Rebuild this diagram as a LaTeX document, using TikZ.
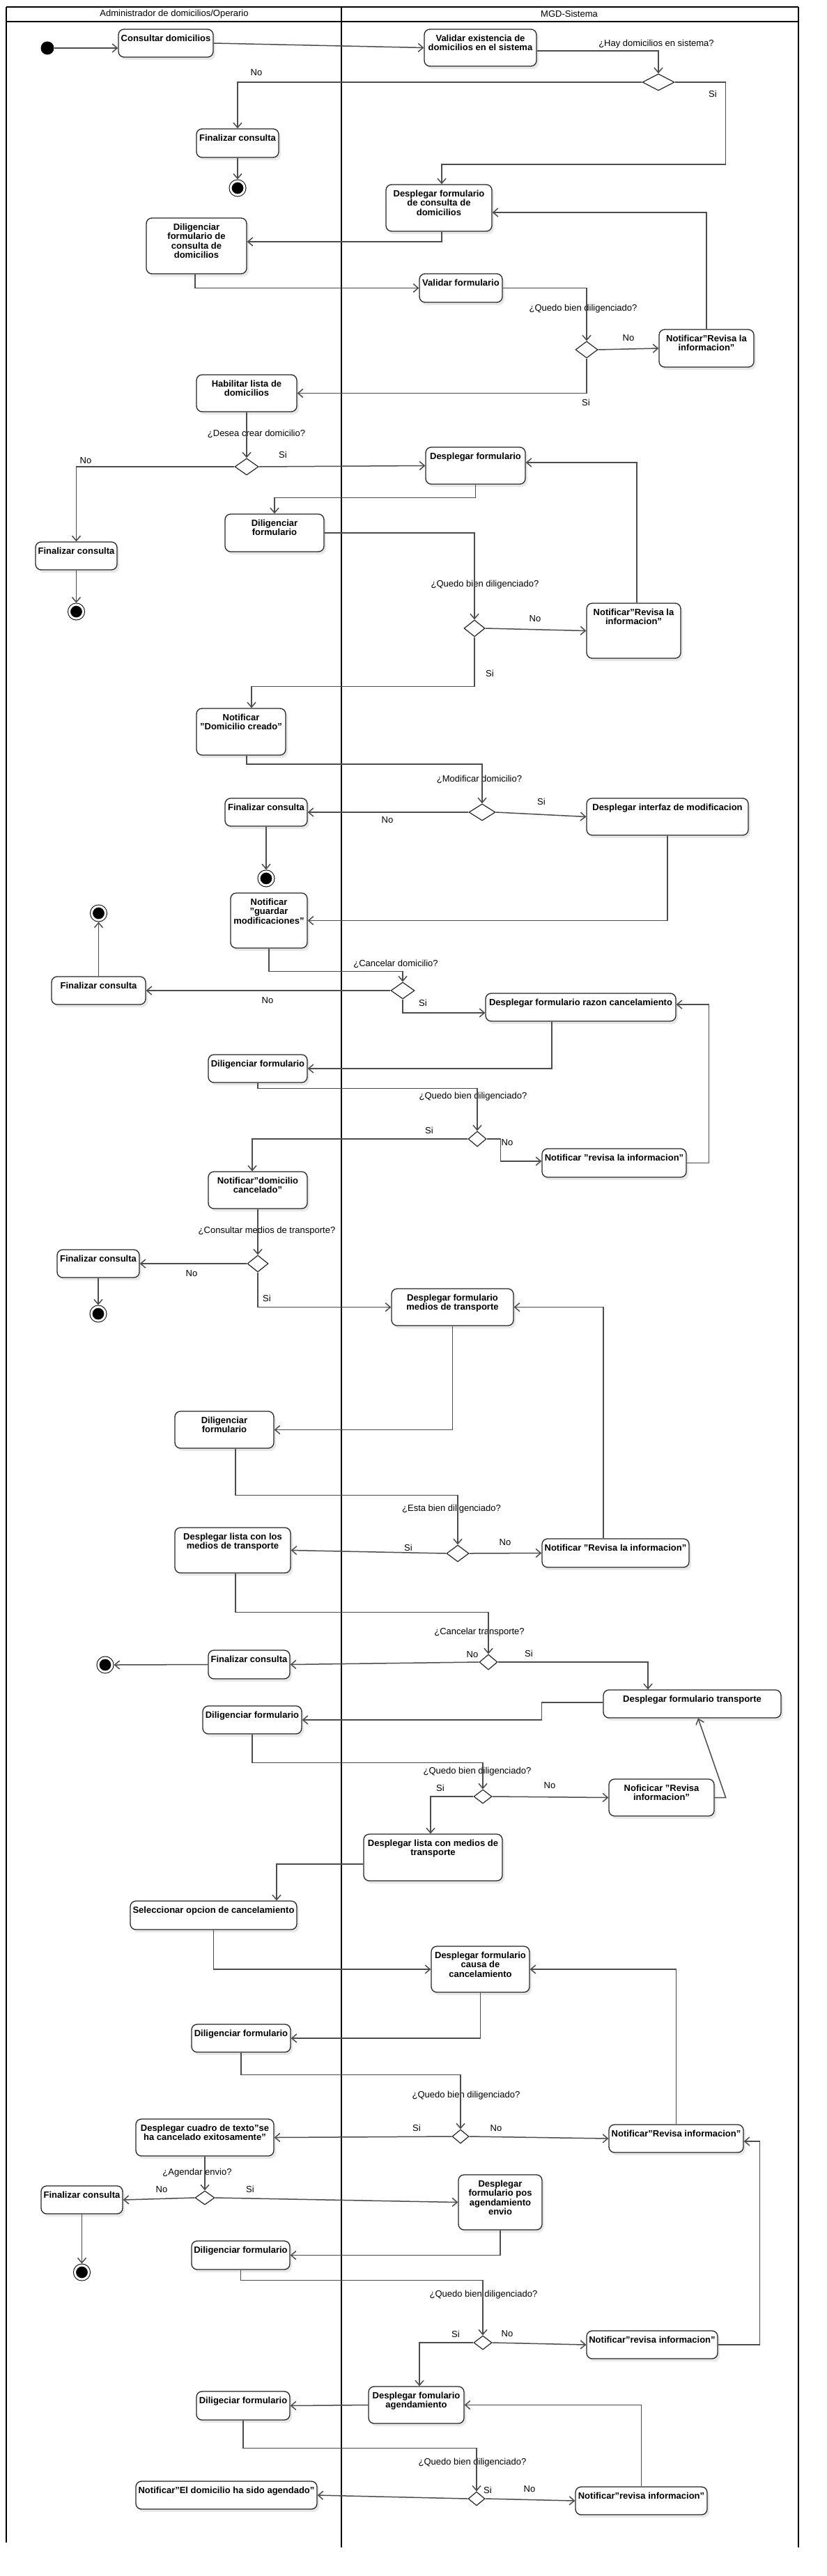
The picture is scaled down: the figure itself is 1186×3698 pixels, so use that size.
\documentclass[tikz,border=0pt]{standalone}
\usepackage{fontspec}
\setmainfont{Liberation Sans}
\usepackage{tikz}
\usetikzlibrary{arrows.meta,shapes.geometric,shadows}
\newcommand{\acttxt}[3]{\parbox[c][#2pt][t]{#1pt}{\centering\vspace*{8pt}\makebox[0pt]{\begin{tabular}[t]{@{}c@{}}#3\end{tabular}}}}
\tikzset{
  act/.style={rectangle, rounded corners=8pt, draw=black!85, line width=1.3pt, fill=white, inner sep=0pt,
              font=\bfseries\fontsize{13}{13}\selectfont,
              drop shadow={shadow xshift=3pt, shadow yshift=-4pt, fill=black!9, opacity=1}},
  dec/.style={diamond, draw=black!85, line width=1.2pt, fill=white, inner sep=0pt},
  startdot/.style={circle, fill=black, minimum size=19pt, inner sep=0pt},
  enddot/.style={circle, draw=black, fill=black, line width=1pt, double=white, double distance=3pt,
                 minimum size=20pt, inner sep=0pt, outer sep=2.5pt},
  flow/.style={-{Straight Barb[length=7pt, width=12pt]}, line width=1.5pt, draw=black!70},
  guard/.style={font=\fontsize{13}{13}\selectfont, inner sep=0pt},
  lane/.style={line width=1.4pt, black},
}
\begin{document}
\begin{tikzpicture}[x=1pt, y=-1pt]
\useasboundingbox (0,0) rectangle (1186,3698);
\fill[white] (0,0) rectangle (1186,3698);
\draw[lane] (9,10) -- (1146,10);
\draw[lane] (9,31) -- (1146,31);
\draw[lane] (9,10) -- (9,3650);
\draw[lane] (490,10) -- (490,3657);
\draw[lane] (1146,10) -- (1146,3657);
\node[guard] (laneAdmin) at (250,20) {Administrador de domicilios/Operario};
\node[guard] (laneSist) at (817,20) {MGD-Sistema};

\node[startdot] (start) at (68,69) {};
\node[act] (consultar) at (238,62) {\acttxt{136}{40}{Consultar domicilios}};
\node[act] (validar) at (689.5,68.5) {\acttxt{161}{53}{Validar existencia de\\domicilios en el sistema}};
\node[dec, minimum width=46pt, minimum height=24pt] (d1) at (945,118) {};
\node[act] (fin1) at (341,205.5) {\acttxt{118}{41}{Finalizar consulta}};
\node[enddot] (end1) at (341,270) {};
\node[act] (despl1) at (630,298.5) {\acttxt{152}{67}{Desplegar formulario\\de consulta de\\domicilios}};
\node[act] (dilig1) at (282,353) {\acttxt{144}{80}{Diligenciar\\formulario de\\consulta de\\domicilios}};
\node[act] (valform) at (661.5,413.5) {\acttxt{119}{41}{Validar formulario}};
\node[dec, minimum width=32pt, minimum height=24pt] (d2) at (842,502) {};
\node[act] (notif1) at (1014,500) {\acttxt{136}{54}{Notificar"Revisa la\\informacion"}};
\node[act] (habil) at (354,564.5) {\acttxt{144}{53}{Habilitar lista de\\domicilios}};
\node[dec, minimum width=34pt, minimum height=24pt] (d3) at (354,670) {};
\node[act] (despl2) at (682.5,668.5) {\acttxt{143}{53}{Desplegar formulario}};
\node[act] (fin2) at (109.5,798) {\acttxt{117}{40}{Finalizar consulta}};
\node[enddot] (end2) at (109.5,878) {};
\node[act] (dilig2) at (394,765) {\acttxt{142}{54}{Diligenciar\\formulario}};
\node[dec, minimum width=30pt, minimum height=24pt] (d4) at (681,902) {};
\node[act] (notif2) at (909.5,905.5) {\acttxt{135}{79}{Notificar"Revisa la\\informacion"}};
\node[act] (creado) at (346,1050.5) {\acttxt{128}{67}{Notificar\\"Domicilio creado"}};
\node[dec, minimum width=38pt, minimum height=24pt] (d5) at (692,1166) {};
\node[act] (fin3) at (382,1166) {\acttxt{118}{40}{Finalizar consulta}};
\node[act] (desplMod) at (958,1172.5) {\acttxt{232}{53}{Desplegar interfaz de modificacion}};
\node[enddot] (end3) at (382,1261) {};
\node[act] (guardar) at (386,1321.5) {\acttxt{110}{79}{Notificar\\"guardar\\modificaciones"}};
\node[dec, minimum width=34pt, minimum height=24pt] (d6) at (578,1422) {};
\node[act] (fin4) at (141.5,1422) {\acttxt{135}{40}{Finalizar consulta}};
\node[enddot] (end4) at (141.5,1311) {};
\node[act] (desplRazon) at (833.5,1446) {\acttxt{273}{40}{Desplegar formulario razon cancelamiento}};
\node[act] (dilig3) at (370,1534) {\acttxt{142}{40}{Diligenciar formulario}};
\node[dec, minimum width=26pt, minimum height=22pt] (d7) at (685,1635) {};
\node[act] (notif3) at (881.5,1669.5) {\acttxt{207}{41}{Notificar "revisa la informacion"}};
\node[act] (cancelado) at (370,1708.5) {\acttxt{142}{53}{Notificar"domicilio\\cancelado"}};
\node[dec, minimum width=30pt, minimum height=24pt] (d8) at (370,1814) {};
\node[act] (fin5) at (141,1814) {\acttxt{118}{40}{Finalizar consulta}};
\node[enddot] (end5) at (141,1886) {};
\node[act] (desplMedios) at (649.5,1876.5) {\acttxt{175}{53}{Desplegar formulario\\medios de transporte}};
\node[act] (dilig4) at (322,2052.5) {\acttxt{142}{53}{Diligenciar\\formulario}};
\node[dec, minimum width=32pt, minimum height=24pt] (d9) at (657,2230) {};
\node[act] (notif4) at (883.5,2229.5) {\acttxt{211}{41}{Notificar "Revisa la informacion"}};
\node[act] (desplLista) at (334,2225.5) {\acttxt{166}{65}{Desplegar lista con los\\medios de transporte}};
\node[dec, minimum width=26pt, minimum height=22pt] (d10) at (701,2386) {};
\node[act] (fin6) at (357.5,2389.5) {\acttxt{117}{41}{Finalizar consulta}};
\node[enddot] (end6) at (151,2390) {};
\node[act] (desplTransp) at (993.5,2446) {\acttxt{255}{40}{Desplegar formulario transporte}};
\node[act] (dilig5) at (362,2469) {\acttxt{142}{40}{Diligenciar formulario}};
\node[dec, minimum width=26pt, minimum height=20pt] (d11) at (693,2579) {};
\node[act] (notif5) at (949.5,2580.5) {\acttxt{151}{53}{Noficicar "Revisa\\informacion"}};
\node[act] (desplLista2) at (621.5,2666.5) {\acttxt{199}{67}{Desplegar lista con medios de\\transporte}};
\node[act] (selecc) at (306.5,2749.5) {\acttxt{239}{41}{Seleccionar opcion de cancelamiento}};
\node[act] (desplCausa) at (689.5,2827) {\acttxt{141}{66}{Desplegar formulario\\causa de\\cancelamiento}};
\node[act] (dilig6) at (346,2926) {\acttxt{142}{40}{Diligenciar formulario}};
\node[dec, minimum width=24pt, minimum height=20pt] (d12) at (661,3067) {};
\node[act] (notif6) at (970.5,3070) {\acttxt{193}{40}{Notificar"Revisa informacion"}};
\node[act] (cuadro) at (294,3068.5) {\acttxt{198}{53}{Desplegar cuadro de texto"se\\ha cancelado exitosamente"}};
\node[dec, minimum width=28pt, minimum height=20pt] (d13) at (294,3155) {};
\node[act] (fin7) at (117.5,3158) {\acttxt{117}{40}{Finalizar consulta}};
\node[enddot] (end7) at (117.5,3262) {};
\node[act] (desplPos) at (718,3161.5) {\acttxt{120}{79}{Desplegar\\formulario pos\\agendamiento\\envio}};
\node[act] (dilig7) at (345.5,3237.5) {\acttxt{141}{41}{Diligenciar formulario}};
\node[dec, minimum width=26pt, minimum height=20pt] (d14) at (693,3363) {};
\node[act] (notif7) at (936,3366) {\acttxt{188}{40}{Notificar"revisa informacion"}};
\node[act] (desplAg) at (597.5,3452.5) {\acttxt{137}{53}{Desplegar fomulario\\agendamiento}};
\node[act] (dilig8) at (349,3453.5) {\acttxt{134}{41}{Diligeciar formulario}};
\node[dec, minimum width=24pt, minimum height=20pt] (d15) at (684,3587) {};
\node[act] (notif8) at (920.5,3590) {\acttxt{189}{40}{Notificar"revisa informacion"}};
\node[act] (agendado) at (325,3582) {\acttxt{260}{40}{Notificar"El domicilio ha sido agendado"}};

\node[guard] (gHay) at (942,63) {¿Hay domicilios en sistema?};
\node[guard] (d1no) at (368,104) {No};
\node[guard] (d1si) at (1023,135) {Si};
\node[guard] (gQ2) at (837,443) {¿Quedo bien diligenciado?};
\node[guard] (d2no) at (902,485) {No};
\node[guard] (d2si) at (841,578) {Si};
\node[guard] (gCrear) at (368,623) {¿Desea crear domicilio?};
\node[guard] (d3si) at (406,653) {Si};
\node[guard] (d3no) at (123,661) {No};
\node[guard] (gQ4) at (696,839) {¿Quedo bien diligenciado?};
\node[guard] (d4no) at (768,888) {No};
\node[guard] (d4si) at (703,967) {Si};
\node[guard] (gMod) at (688,1119) {¿Modificar domicilio?};
\node[guard] (d5no) at (556,1177) {No};
\node[guard] (d5si) at (777,1151) {Si};
\node[guard] (gCancel) at (568,1384) {¿Cancelar domicilio?};
\node[guard] (d6no) at (384,1436) {No};
\node[guard] (d6si) at (607,1440) {Si};
\node[guard] (gQ7) at (679,1574) {¿Quedo bien diligenciado?};
\node[guard] (d7si) at (616,1623) {Si};
\node[guard] (d7no) at (728,1640) {No};
\node[guard] (gMedios) at (383,1767) {¿Consultar medios de transporte?};
\node[guard] (d8no) at (275,1828) {No};
\node[guard] (d8si) at (383,1864) {Si};
\node[guard] (gEsta) at (648,2166) {¿Esta bien diligenciado?};
\node[guard] (d9si) at (586,2222) {Si};
\node[guard] (d9no) at (725,2214) {No};
\node[guard] (gTransp) at (688,2343) {¿Cancelar transporte?};
\node[guard] (d10no) at (678,2375) {No};
\node[guard] (d10si) at (759,2374) {Si};
\node[guard] (gQ11) at (685,2543) {¿Quedo bien diligenciado?};
\node[guard] (d11no) at (789,2563) {No};
\node[guard] (d11si) at (632,2567) {Si};
\node[guard] (gQ12) at (669,3008) {¿Quedo bien diligenciado?};
\node[guard] (d12si) at (598,3055) {Si};
\node[guard] (d12no) at (712,3055) {No};
\node[guard] (gAgendar) at (283,3119) {¿Agendar envio?};
\node[guard] (d13no) at (232,3143) {No};
\node[guard] (d13si) at (359,3143) {Si};
\node[guard] (gQ14) at (694,3294) {¿Quedo bien diligenciado?};
\node[guard] (d14no) at (728,3350) {No};
\node[guard] (d14si) at (654,3351) {Si};
\node[guard] (gQ15) at (678,3535) {¿Quedo bien diligenciado?};
\node[guard] (d15si) at (700,3575) {Si};
\node[guard] (d15no) at (760,3573) {No};

\draw[flow] (start) -- (start -| consultar.west);
\draw[flow] (consultar.east) -- (validar.west);
\draw[flow] (validar.-3) -| (d1.north);
\draw[flow] (d1.west) -| (fin1.north);
\draw[flow] (d1.east) -- ++(73,0) -- ++(0,118) -| ([xshift=4pt]despl1.north);
\draw[flow] (fin1.south) -- (end1.north);
\draw[flow] ([xshift=4pt]despl1.south) |- ([yshift=6pt]dilig1.east);
\draw[flow] ([xshift=-2pt]dilig1.south) |- (valform.west);
\draw[flow] (valform.east) -| (d2.north);
\draw[flow] (d2.east) -- (notif1.west);
\draw[flow] (notif1.north) |- ([yshift=-6.5pt]despl1.east);
\draw[flow] (d2.south) |- (habil.east);
\draw[flow] (habil.south) -- (d3.north);
\draw[flow] (d3.east) -- (despl2.west);
\draw[flow] (d3.west) -| (fin2.north);
\draw[flow] (fin2.south) -- (end2.north);
\draw[flow] (despl2.south) -- ++(0,19) -| (dilig2.north);
\draw[flow] (dilig2.east) -| (d4.north);
\draw[flow] (d4.east) -- (notif2.west);
\draw[flow] ([xshift=4.5pt]notif2.north) |- ([yshift=4.5pt]despl2.east);
\draw[flow] (d4.south) -- ++(0,71) -| ([xshift=15pt]creado.north);
\draw[flow] ([xshift=8pt]creado.south) -- ++(0,12.5) -| (d5.north);
\draw[flow] (d5.west) -- (fin3.east);
\draw[flow] (d5.east) -- (desplMod.west);
\draw[flow] (fin3.south) -- (end3.north);
\draw[flow] (desplMod.south) |- (guardar.east);
\draw[flow] (guardar.south) -- ++(0,33) -| (d6.north);
\draw[flow] (d6.west) -- (fin4.east);
\draw[flow] (d6.south) |- ([yshift=-8pt]desplRazon.west);
\draw[flow] (fin4.north) -- (end4.south);
\draw[flow] ([xshift=-41.5pt]desplRazon.south) |- (dilig3.east);
\draw[flow] (dilig3.south) -- ++(0,8) -| (d7.north);
\draw[flow] (d7.west) -| ([xshift=-8pt]cancelado.north);
\draw[flow] (d7.east) -- ++(20,0) |- ([yshift=2.5pt]notif3.west);
\draw[flow] (notif3.east) -- ++(32,0) |- ([yshift=4pt]desplRazon.east);
\draw[flow] (cancelado.south) -- (d8.north);
\draw[flow] (d8.west) -- (fin5.east);
\draw[flow] (fin5.south) -- (end5.north);
\draw[flow] (d8.south) |- (desplMedios.west);
\draw[flow] ([xshift=-17.5pt]notif4.north) |- (desplMedios.east);
\draw[flow] (desplMedios.south) |- (dilig4.east);
\draw[flow] ([xshift=16pt]dilig4.south) -- ++(0,67) -| (d9.north);
\draw[flow] (d9.west) -- (desplLista.east);
\draw[flow] (d9.east) -- (notif4.west);
\draw[flow] ([xshift=4pt]desplLista.south) -- ++(0,56) -| (d10.north);
\draw[flow] (d10.west) -- (fin6.east);
\draw[flow] (fin6.west) -- (end6.east);
\draw[flow] (d10.east) -| ([xshift=-63.5pt]desplTransp.north);
\draw[flow] ([yshift=2pt]desplTransp.west) -- ++(-88,0) |- (dilig5.east);
\draw[flow] (notif5.east) -- ++(16,0) -- ([xshift=8.5pt]desplTransp.south);
\draw[flow] (dilig5.south) -- ++(0,41) -| (d11.north);
\draw[flow] (d11.east) -- (notif5.west);
\draw[flow] (d11.west) -| ([xshift=-3.5pt]desplLista2.north);
\draw[flow] ([yshift=-9.5pt]desplLista2.west) -| ([xshift=90.5pt]selecc.north);
\draw[flow] (selecc.south) |- (desplCausa.west);
\draw[flow] (desplCausa.south) |- (dilig6.east);
\draw[flow] (dilig6.south) -- ++(0,32) -| (d12.north);
\draw[flow] (d12.west) -- (cuadro.east);
\draw[flow] (d12.east) -- (notif6.west);
\draw[flow] (notif6.north) |- (desplCausa.east);
\draw[flow] (notif7.east) -- ++(60,0) |- ([yshift=-4pt]notif6.east);
\draw[flow] (cuadro.south) -- (d13.north);
\draw[flow] (d13.west) -- (fin7.east);
\draw[flow] (d13.east) -- (desplPos.west);
\draw[flow] (fin7.south) -- (end7.north);
\draw[flow] (desplPos.south) |- (dilig7.east);
\draw[flow] (dilig7.south) -- ++(0,15) -| (d14.north);
\draw[flow] (d14.east) -- (notif7.west);
\draw[flow] (d14.west) -| ([xshift=4.5pt]desplAg.north);
\draw[flow] (notif8.north) |- (desplAg.east);
\draw[flow] (desplAg.west) -- (dilig8.east);
\draw[flow] (dilig8.south) -- ++(0,40) -| (d15.north);
\draw[flow] (d15.west) -- (agendado.east);
\draw[flow] (d15.east) -- (notif8.west);
\end{tikzpicture}
\end{document}
